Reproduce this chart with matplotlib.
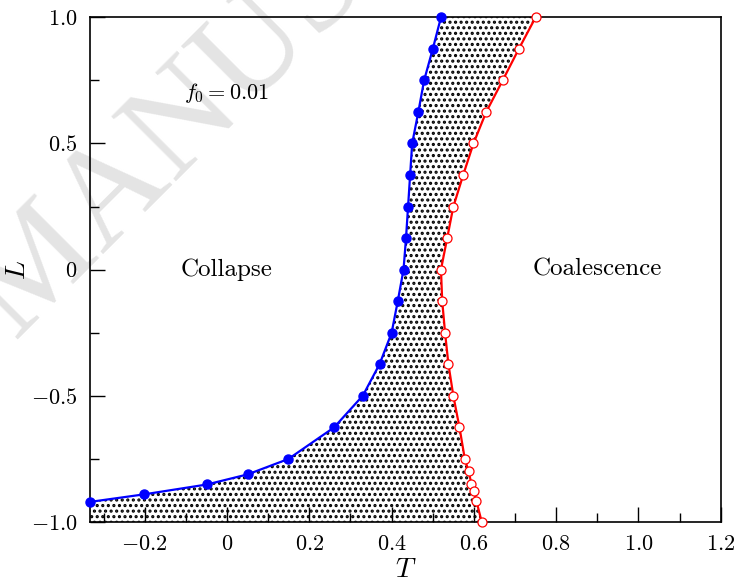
import numpy as np
import matplotlib
matplotlib.use('Agg')
from matplotlib import pyplot as plt
from matplotlib.ticker import FixedLocator, FixedFormatter, MultipleLocator

plt.rcParams['font.family'] = 'serif'
plt.rcParams['font.serif'] = ['cmr10']
plt.rcParams['mathtext.fontset'] = 'cm'
plt.rcParams['axes.formatter.use_mathtext'] = True
plt.rcParams['hatch.linewidth'] = 1.5

# collapse boundary (blue, filled)
T_collapse = [-0.333, -0.201, -0.049, 0.050, 0.149, 0.260, 0.330, 0.371, 0.400, 0.415,
              0.429, 0.435, 0.440, 0.445, 0.450, 0.465, 0.479, 0.500, 0.520]
L_collapse = [-0.921, -0.891, -0.852, -0.812, -0.751, -0.626, -0.500, -0.374, -0.251, -0.125,
              0.0, 0.124, 0.249, 0.375, 0.500, 0.625, 0.750, 0.874, 1.0]

# coalescence boundary (red, open)
T_coal = [0.750, 0.709, 0.670, 0.630, 0.599, 0.574, 0.550, 0.535, 0.520, 0.523,
          0.530, 0.538, 0.550, 0.565, 0.578, 0.587, 0.594, 0.600, 0.606, 0.619]
L_coal = [1.0, 0.874, 0.750, 0.625, 0.500, 0.375, 0.249, 0.124, 0.0, -0.125,
          -0.251, -0.374, -0.500, -0.626, -0.751, -0.799, -0.849, -0.878, -0.917, -1.0]

xticks = [-0.2, 0, 0.2, 0.4, 0.6, 0.8, 1.0, 1.2]
xticklabels = ['$-0.2$', '$0$', '$0.2$', '$0.4$', '$0.6$', '$0.8$', '$1.0$', '$1.2$']
yticks = [-1.0, -0.5, 0, 0.5, 1.0]
yticklabels = ['$-1.0$', '$-0.5$', '$0$', '$0.5$', '$1.0$']

fig = plt.figure(figsize=(7.38, 5.85), dpi=100)
ax = fig.add_axes([0.122, 0.108, 0.8546, 0.8624])
ax.set_zorder(1)
ax.patch.set_alpha(0)

# watermark (behind the axes)
fig.text(0.02, 0.42, 'MANUSCRIPT', fontsize=100, family='Liberation Serif',
         color='#e4e4e4', rotation=45, rotation_mode='anchor', ha='left', va='baseline', zorder=0)

# hatched coexistence region
poly_T = [T_collapse[0]] + T_collapse + T_coal
poly_L = [-1.0] + L_collapse + L_coal
ax.fill(poly_T, poly_L, facecolor='none', edgecolor='black', hatch='...', linewidth=0, zorder=1)

ax.plot(T_collapse, L_collapse, '-o', color='blue', lw=1.6, ms=6.5, zorder=3, clip_on=False)
ax.plot(T_coal, L_coal, '-o', color='red', lw=1.6, ms=6.5, mfc='white', mec='red', mew=0.9,
        zorder=3, clip_on=False)

ax.set_xlim(-0.333, 1.2)
ax.set_ylim(-1.0, 1.0)
ax.xaxis.set_major_locator(FixedLocator(xticks))
ax.xaxis.set_major_formatter(FixedFormatter(xticklabels))
ax.xaxis.set_minor_locator(MultipleLocator(0.1))
ax.yaxis.set_major_locator(FixedLocator(yticks))
ax.yaxis.set_major_formatter(FixedFormatter(yticklabels))
ax.yaxis.set_minor_locator(MultipleLocator(0.25))
ax.tick_params(which='both', direction='in', top=False, right=False, labelsize=16, width=1.0)
ax.tick_params(which='major', length=10.5, pad=9)
ax.tick_params(which='minor', length=6.5)
for s in ax.spines.values():
    s.set_linewidth(1.2)

ax.set_xlabel('$T$', fontsize=20, labelpad=2)
ax.set_ylabel('$L$', fontsize=20, labelpad=0)

ax.text(-0.105, 0.70, '$f_0 = 0.01$', fontsize=16, va='center', ha='left')
ax.text(0.0, 0.0, 'Collapse', fontsize=18, va='center', ha='center')
ax.text(0.899, 0.0, 'Coalescence', fontsize=18, va='center', ha='center')

fig.savefig('out.png', dpi=100)
